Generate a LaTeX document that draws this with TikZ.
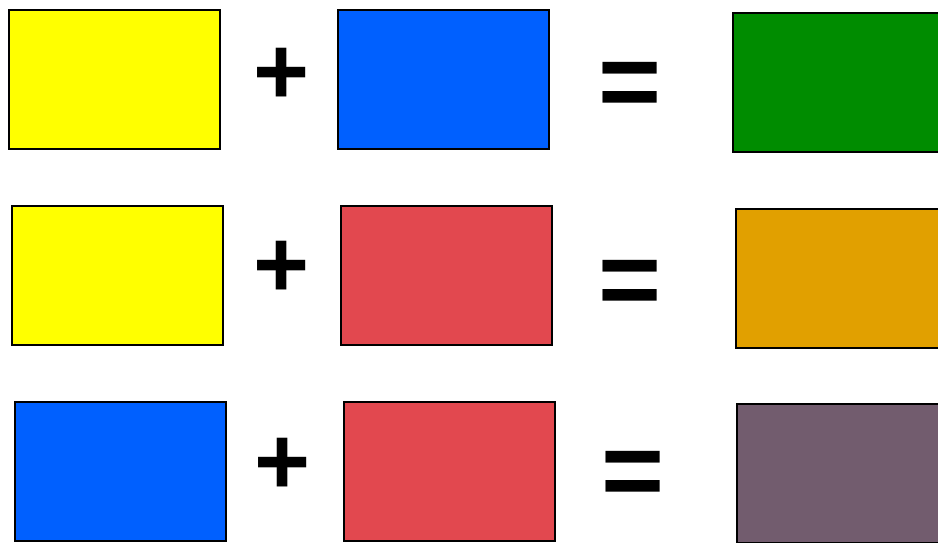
\documentclass[tikz,border=0pt]{standalone}
\usepackage{fontspec}
\setmainfont{Liberation Sans}
\definecolor{cyel}{HTML}{FFFF00}
\definecolor{cblu}{HTML}{0060FF}
\definecolor{cgrn}{HTML}{008C00}
\definecolor{cred}{HTML}{E2484F}
\definecolor{cora}{HTML}{E1A000}
\definecolor{cpur}{HTML}{725C6E}
\begin{document}
\begin{tikzpicture}[x=1pt,y=-1pt,
  swatch/.style={draw=black,line width=1.5pt,rectangle,inner sep=0pt,minimum width=211pt,minimum height=139pt},
  plussym/.style={inner sep=0pt,font=\fontsize{96}{96}\bfseries\selectfont},
  eqsym/.style={inner sep=0pt,font=\fontsize{108}{108}\bfseries\selectfont}]
\useasboundingbox (0,0) rectangle (938,542);
\clip (0,0) rectangle (938,542);
% row 1
\node[swatch,fill=cyel] (a1) at (114.5,79.5) {};
\node[plussym] (p1) at (281.5,76) {+};
\node[swatch,fill=cblu] (b1) at (443.5,79.5) {};
\node[eqsym] (e1) at (630.5,90) {=};
\node[swatch,fill=cgrn] (c1) at (838.5,82.5) {};
% row 2
\node[swatch,fill=cyel] (a2) at (117.5,275.5) {};
\node[plussym] (p2) at (281.5,269) {+};
\node[swatch,fill=cred] (b2) at (446.5,275.5) {};
\node[eqsym] (e2) at (630.5,288.5) {=};
\node[swatch,fill=cora] (c2) at (841.5,278.5) {};
% row 3
\node[swatch,fill=cblu] (a3) at (120.5,471.5) {};
\node[plussym] (p3) at (282.5,466) {+};
\node[swatch,fill=cred] (b3) at (449.5,471.5) {};
\node[eqsym] (e3) at (633,479) {=};
\node[swatch,fill=cpur] (c3) at (842.5,473.5) {};
\end{tikzpicture}
\end{document}
